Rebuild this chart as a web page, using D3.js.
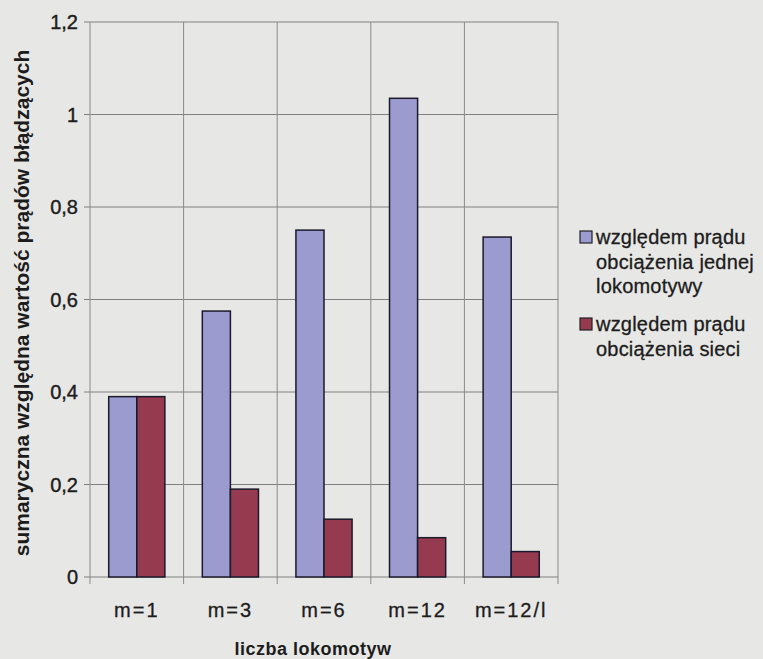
<!DOCTYPE html>
<html><head><meta charset="utf-8">
<script src="https://cdn.jsdelivr.net/npm/d3@7"></script>
<style>
body{margin:0;background:#e7e7e5;}
svg{display:block;font-family:"Liberation Sans",Arial,sans-serif;}
</style></head>
<body><svg id="c" width="763" height="659"></svg>
<script>
const categories = ["m=1","m=3","m=6","m=12","m=12/l"];
const seriesNames = ["względem prądu obciążenia jednej lokomotywy","względem prądu obciążenia sieci"];
const seriesA = [0.39, 0.575, 0.75, 1.035, 0.735];
const seriesB = [0.39, 0.19, 0.125, 0.085, 0.055];
const yTicks = [0, 0.2, 0.4, 0.6, 0.8, 1, 1.2];
const colors = ["#9c9bd0", "#963a50"];

const svg = d3.select("#c");
const L = 90, R = 558, T = 22, B = 577;
const x = d3.scaleBand().domain(categories).range([L, R]);
const bw = x.bandwidth();
const x1 = d3.scaleBand().domain([0,1]).range([bw*0.2, bw*0.8]);
const y = d3.scaleLinear().domain([0, 1.2]).range([B, T]);
const txt = "#1c1c1c";

// gridlines
const g = svg.append("g");
g.selectAll("line.h").data(yTicks).join("line")
  .attr("x1", L-6).attr("x2", R).attr("y1", d=>y(d)).attr("y2", d=>y(d))
  .attr("stroke", "#808080").attr("stroke-width", 1);
g.selectAll("line.v").data(categories.map((c,i)=>x(c)).concat([R])).join("line")
  .attr("x1", d=>d).attr("x2", d=>d).attr("y1", T).attr("y2", B+7)
  .attr("stroke", "#8a8a8a").attr("stroke-width", 1);

// y tick labels
svg.append("g").selectAll("text").data(yTicks).join("text")
  .attr("x", 78).attr("y", d=>y(d)).attr("dy", "0.35em")
  .attr("text-anchor", "end").attr("font-size", 20).attr("fill", txt)
  .attr("stroke", txt).attr("stroke-width", 0.4)
  .text(d => String(d).replace(".", ","));

// bars
const data = [seriesA, seriesB];
data.forEach((vals, si) => {
  svg.append("g").selectAll("rect").data(vals).join("rect")
    .attr("x", (d,i)=>x(categories[i]) + x1(si))
    .attr("y", d=>y(d))
    .attr("width", x1.bandwidth())
    .attr("height", d=>B - y(d))
    .attr("fill", colors[si])
    .attr("stroke", "#1a1a2a").attr("stroke-width", 1.5);
});

// x labels
svg.append("g").selectAll("text").data(categories).join("text")
  .attr("x", d=>x(d)+bw/2).attr("y", 617)
  .attr("text-anchor", "middle").attr("font-size", 20).attr("fill", txt)
  .attr("letter-spacing", 2)
  .attr("stroke", txt).attr("stroke-width", 0.3)
  .text(d=>d);

// axis titles
svg.append("text").attr("x", 313).attr("y", 655).attr("text-anchor", "middle")
  .attr("font-size", 18).attr("font-weight", "bold").attr("fill", txt)
  .attr("letter-spacing", 0.5).text("liczba lokomotyw");
svg.append("text").attr("transform", "translate(29,303) rotate(-90)")
  .attr("text-anchor", "middle").attr("font-size", 21).attr("font-weight", "bold")
  .attr("fill", txt).text("sumaryczna względna wartość prądów błądzących");

// legend
const legend = [
  {lines:["względem prądu","obciążenia jednej","lokomotywy"], y0:244},
  {lines:["względem prądu","obciążenia sieci"], y0:331}
];
legend.forEach((it, i) => {
  svg.append("rect").attr("x", 580).attr("y", it.y0-13).attr("width", 12).attr("height", 12)
    .attr("fill", colors[i]).attr("stroke", "#222").attr("stroke-width", 1.2);
  svg.append("g").selectAll("text").data(it.lines).join("text")
    .attr("x", 596).attr("y", (d,j)=>it.y0 + j*24.5)
    .attr("font-size", 20).attr("fill", txt).attr("letter-spacing", 0.2)
    .attr("stroke", txt).attr("stroke-width", 0.3).text(d=>d);
});
</script></body></html>
